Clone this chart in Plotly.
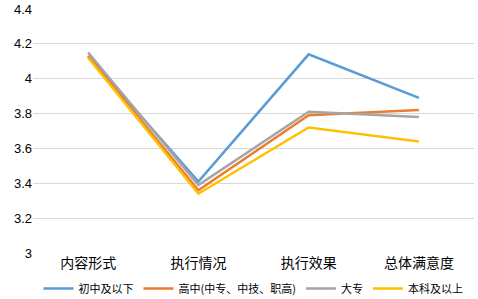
import plotly.graph_objects as go

categories = ["内容形式", "执行情况", "执行效果", "总体满意度"]
series_names = ["初中及以下", "高中(中专、中技、职高)", "大专", "本科及以上"]
junior = [4.13, 3.41, 4.14, 3.89]
senior = [4.13, 3.36, 3.79, 3.82]
college = [4.15, 3.39, 3.81, 3.78]
bachelor = [4.12, 3.34, 3.72, 3.64]
colors = ["#5B9BD5", "#ED7D31", "#A5A5A5", "#FFC000"]

fig = go.Figure()
for name, vals, c in zip(series_names, [junior, senior, college, bachelor], colors):
    fig.add_trace(go.Scatter(x=categories, y=vals, mode="lines", name=name,
                             line=dict(color=c, width=2.5)))

fig.update_layout(
    width=478, height=299,
    margin=dict(l=33, r=4, t=9, b=46, autoexpand=False),
    paper_bgcolor="white", plot_bgcolor="white",
    font=dict(family="Liberation Sans, Noto Sans CJK SC", size=13, color="#000"),
    showlegend=True,
    legend=dict(orientation="h", x=0.5, xanchor="center", y=-0.205, yanchor="bottom",
                font=dict(size=11, family="Noto Sans CJK SC"),
                itemwidth=30, tracegroupgap=0),
)
fig.update_xaxes(range=[-0.5, 3.5], showgrid=False, showline=False, ticks="", automargin=False,
                 tickfont=dict(size=14, family="Noto Sans CJK SC"))
fig.update_yaxes(range=[3, 4.4], dtick=0.2, showgrid=True, gridcolor="#D9D9D9", gridwidth=1,
                 zeroline=False, showline=False, ticks="", automargin=False, tickfont=dict(size=13))

fig.write_html("out.html", config={"displayModeBar": False},
               post_script="document.body.style.margin='0';")
